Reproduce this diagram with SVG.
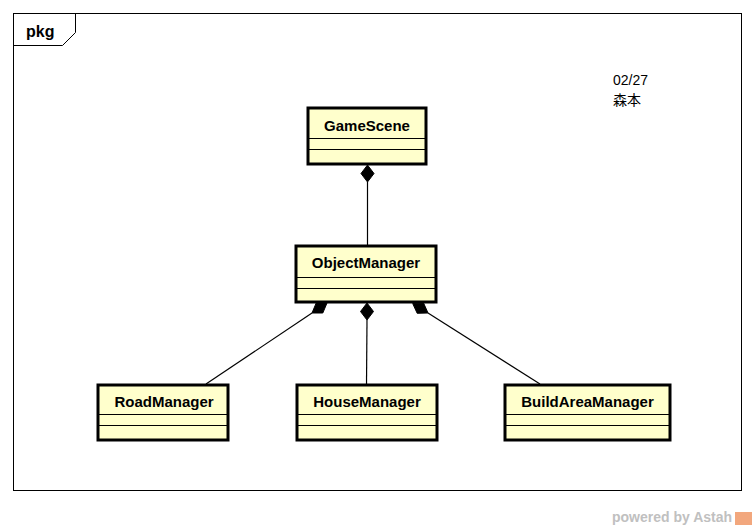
<svg xmlns="http://www.w3.org/2000/svg" width="756" height="530" viewBox="0 0 756 530">
<style>
.frame{fill:none;stroke:#000;stroke-width:1}
.cls{fill:#ffffcc;stroke:#000;stroke-width:3}
.sep{stroke:#000;stroke-width:1}
.name{font-family:"Liberation Sans",Arial,sans-serif;font-weight:bold;font-size:15px;fill:#000;text-anchor:middle}
.edge{stroke:#000;stroke-width:1.2;fill:none}
.dia{fill:#000;stroke:#000;stroke-width:1}
.note{font-family:"Liberation Sans","Noto Sans CJK JP",sans-serif;font-size:14px;fill:#000}
</style>
<rect width="756" height="530" fill="#fff"/>
<g id="frame">
<rect class="frame" x="13.5" y="13.5" width="728" height="477"/>
<path class="frame" d="M13.5 45.5 H62.5 L75.5 32.5 V13.5"/>
<text x="26" y="37" style="font-family:'Liberation Sans',Arial,sans-serif;font-weight:bold;font-size:16px">pkg</text>
</g>
<g id="note">
<text class="note" x="613" y="85">02/27</text>
<text class="note" x="613" y="105">森本</text>
</g>
<g id="connectors">
<line class="edge" x1="367.5" y1="182" x2="367.5" y2="245"/>
<polygon class="dia" points="367.5,165 374,173.5 367.5,182 361,173.5"/>
<line class="edge" x1="367" y1="320" x2="366.5" y2="384"/>
<polygon class="dia" points="367,303 373.5,311.5 367,320 360.5,311.5"/>
<line class="edge" x1="312" y1="313" x2="206" y2="384"/>
<polygon class="dia" points="327,303 322.8,313 312,313 316.2,303"/>
<line class="edge" x1="428" y1="313" x2="540" y2="384"/>
<polygon class="dia" points="412.7,303.5 423.6,303.1 428,313 417.2,313.3"/>
</g>
<g id="GameScene">
<rect class="cls" x="308" y="108" width="118" height="56"/>
<line class="sep" x1="309" y1="138.5" x2="425" y2="138.5"/>
<line class="sep" x1="309" y1="149.5" x2="425" y2="149.5"/>
<text class="name" x="367" y="131">GameScene</text>
</g>
<g id="ObjectManager">
<rect class="cls" x="296" y="246" width="140" height="56"/>
<line class="sep" x1="297" y1="277.5" x2="435" y2="277.5"/>
<line class="sep" x1="297" y1="288.5" x2="435" y2="288.5"/>
<text class="name" x="366" y="268">ObjectManager</text>
</g>
<g id="RoadManager">
<rect class="cls" x="98" y="385" width="130" height="55"/>
<line class="sep" x1="99" y1="414.5" x2="227" y2="414.5"/>
<line class="sep" x1="99" y1="425.5" x2="227" y2="425.5"/>
<text class="name" x="164" y="407">RoadManager</text>
</g>
<g id="HouseManager">
<rect class="cls" x="297" y="385" width="140" height="55"/>
<line class="sep" x1="298" y1="414.5" x2="436" y2="414.5"/>
<line class="sep" x1="298" y1="425.5" x2="436" y2="425.5"/>
<text class="name" x="367" y="407">HouseManager</text>
</g>
<g id="BuildAreaManager">
<rect class="cls" x="505" y="385" width="165" height="55"/>
<line class="sep" x1="506" y1="414.5" x2="669" y2="414.5"/>
<line class="sep" x1="506" y1="425.5" x2="669" y2="425.5"/>
<text class="name" x="587.5" y="407">BuildAreaManager</text>
</g>
<g id="watermark">
<text x="612" y="522" style="font-family:'Liberation Sans',Arial,sans-serif;font-weight:bold;font-size:14px;fill:#c0c0c0">powered by Astah</text>
<rect x="735" y="512" width="17" height="13" fill="#f2a77d"/>
</g>
</svg>
